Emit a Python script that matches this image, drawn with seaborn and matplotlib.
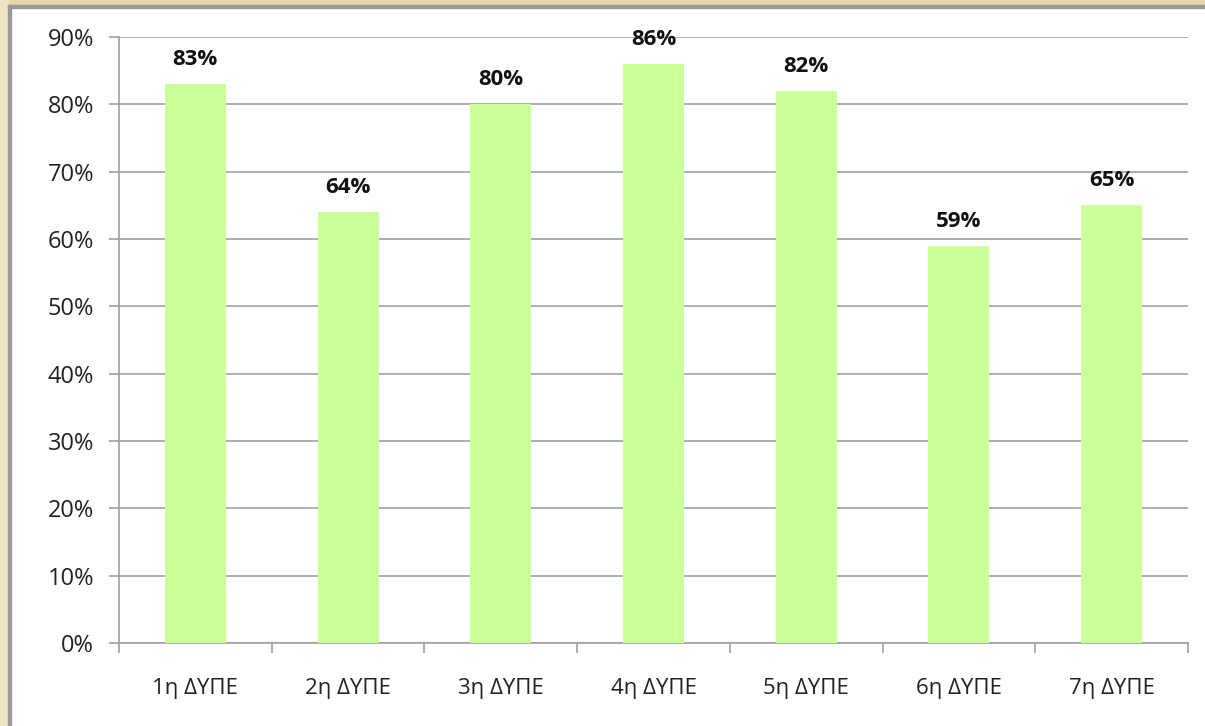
import numpy as np
import pandas as pd
import matplotlib
matplotlib.use("Agg")
import matplotlib.pyplot as plt
import seaborn as sns
from matplotlib.patches import Rectangle
from matplotlib.ticker import FixedLocator

# data
categories = ["1η ΔΥΠΕ", "2η ΔΥΠΕ", "3η ΔΥΠΕ", "4η ΔΥΠΕ", "5η ΔΥΠΕ", "6η ΔΥΠΕ", "7η ΔΥΠΕ"]
values = [83, 64, 80, 86, 82, 59, 65]
y_ticks = [0, 10, 20, 30, 40, 50, 60, 70, 80, 90]

df = pd.DataFrame({"region": categories, "pct": values})

sns.set_style("white")
plt.rcParams['font.family'] = ['Open Sans', 'DejaVu Sans']

fig = plt.figure(figsize=(12.05, 7.26), dpi=100)
fig.patch.set_facecolor("white")

# beige frame on top / left
fig.patches.append(Rectangle((0, 1 - 5 / 726), 1, 5 / 726, transform=fig.transFigure,
                             color="#E6D5AE", zorder=0))
fig.patches.append(Rectangle((0, 0), 8 / 1205, 1, transform=fig.transFigure,
                             color="#F0E2C2", zorder=0))
fig.patches.append(Rectangle((8 / 1205, 0), 3 / 1205, 1 - 5 / 726, transform=fig.transFigure,
                             color="#999999", zorder=0))
fig.patches.append(Rectangle((8 / 1205, 1 - 8 / 726), 1 - 8 / 1205, 3 / 726, transform=fig.transFigure,
                             color="#999999", zorder=0))

ax = fig.add_axes([119 / 1205, 83 / 726, (1188 - 119) / 1205, (643 - 37) / 726])

sns.barplot(data=df, x="region", y="pct", color="#CCFF99", saturation=1,
            width=0.40, linewidth=0, ax=ax, zorder=3)

ax.set_ylim(0, 90)
ax.set_xlim(-0.5, len(categories) - 0.5)
ax.set_yticks(y_ticks)
ax.set_yticklabels([f"{t}%" for t in y_ticks], fontsize=17, color="#222222")
ax.yaxis.grid(True, color="#A0A0A0", linewidth=1.2, zorder=0)
ax.set_axisbelow(True)

# x ticks at category boundaries, labels at centres
ax.xaxis.set_major_locator(FixedLocator(np.arange(-0.5, len(categories), 1.0)))
ax.set_xticklabels([])
ax.xaxis.set_minor_locator(FixedLocator(np.arange(len(categories))))
ax.set_xticklabels(categories, minor=True, fontsize=16, color="#222222")
ax.tick_params(axis="x", which="major", bottom=True, direction="out", length=7,
               color="#A0A0A0", width=1.2)
ax.tick_params(axis="x", which="minor", bottom=True, length=0, pad=25)
ax.tick_params(axis="y", direction="out", length=7, color="#A0A0A0", width=1.2, pad=11, left=True)

ax.set_xlabel("")
ax.set_ylabel("")

for s in ["top", "right"]:
    ax.spines[s].set_visible(False)
for s in ["left", "bottom"]:
    ax.spines[s].set_color("#A0A0A0")
    ax.spines[s].set_linewidth(1.2)

# data labels
for i, v in enumerate(values):
    ax.annotate(f"{v}%", (i, v), xytext=(0, 10), textcoords="offset points",
                ha="center", va="bottom", fontsize=16, fontweight="bold", color="#111111")

fig.savefig("out.png", dpi=100)
